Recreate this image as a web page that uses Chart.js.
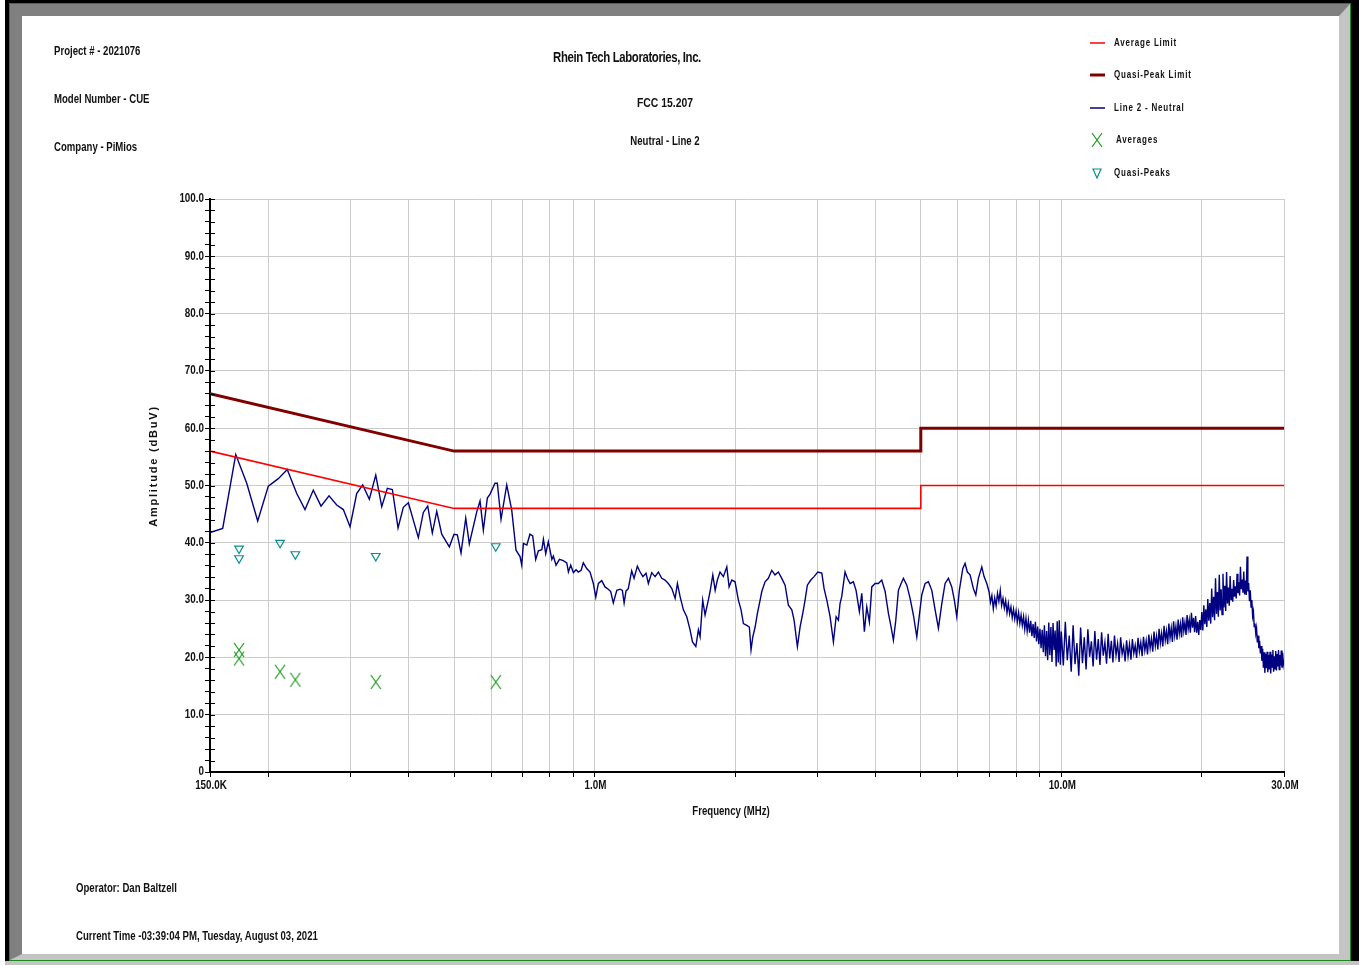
<!DOCTYPE html>
<html>
<head>
<meta charset="utf-8">
<script src="https://cdn.jsdelivr.net/npm/chart.js@4.4.1/dist/chart.umd.min.js"></script>
<style>
html, body { margin: 0; padding: 0; background: #fff; }
body { width: 1359px; height: 965px; position: relative; overflow: hidden;
  font-family: "Liberation Sans", Arial, sans-serif; font-weight: bold; color: #111; }
#outer { position: absolute; left: 5px; top: 0; width: 1354px; height: 961px; box-sizing: border-box;
  border-left: 4px solid #000; border-top: 3px solid #000; border-right: 8px solid #000; }
#green { position: absolute; left: 0; top: 0; right: 0; bottom: 0; border: 1px solid #1a8a1a; }
#bevel { position: absolute; left: 0; top: 0; right: 0; bottom: 0; box-sizing: border-box;
  border-top: 12px solid #808080; border-left: 12px solid #808080;
  border-right: 11px solid #c4c4c4; border-bottom: 6px solid #c4c4c4; background: #fff; }
#under { position: absolute; left: 5px; top: 961px; width: 1354px; height: 4px; background: #c4c4c4; }
canvas { position: absolute; left: 0; top: 0; }
.t { position: absolute; white-space: nowrap; line-height: 1; transform-origin: 0 0; transform: scaleX(0.8); }
.c { transform-origin: 50% 0; transform: translateX(-50%) scaleX(0.8); }
</style>
</head>
<body>
<div id="outer"><div id="green"><div id="bevel"></div></div></div>
<div id="under"></div>
<canvas id="emiChart" width="1359" height="965"></canvas>

<div class="t" style="left:54px;top:45px;font-size:12px;">Project # - 2021076</div>
<div class="t" style="left:54px;top:93px;font-size:12px;">Model Number - CUE</div>
<div class="t" style="left:54px;top:141px;font-size:12px;">Company - PiMios</div>
<div class="t c" style="left:627px;top:49px;font-size:15px;letter-spacing:-0.5px;transform:translateX(-50%) scaleX(0.76);">Rhein Tech Laboratories, Inc.</div>
<div class="t c" style="left:665px;top:96px;font-size:13px;">FCC 15.207</div>
<div class="t c" style="left:665px;top:135px;font-size:12px;">Neutral - Line 2</div>
<div class="t" style="left:76px;top:882px;font-size:12px;">Operator: Dan Baltzell</div>
<div class="t" style="left:76px;top:930px;font-size:12px;">Current Time -03:39:04 PM, Tuesday, August 03, 2021</div>

<script>
// frequency axis (MHz)
const gridFreqs = [0.15, 0.2, 0.3, 0.4, 0.5, 0.6, 0.7, 0.8, 0.9, 1, 2, 3, 4, 5, 6, 7, 8, 9, 10, 20, 30];
const xLabelFreqs = [0.15, 1, 10, 30];
const xLabelText = ["150.0K", "1.0M", "10.0M", "30.0M"];
const yLabelValues = [0, 10, 20, 30, 40, 50, 60, 70, 80, 90, 100];
const yLabelText = ["0", "10.0", "20.0", "30.0", "40.0", "50.0", "60.0", "70.0", "80.0", "90.0", "100.0"];

// limits [MHz, dBuV]
const avgLimit = [[0.15, 56], [0.5, 46], [5, 46], [5, 50], [30, 50]];
const qpLimit = [[0.15, 66], [0.5, 56], [5, 56], [5, 60], [30, 60]];

// measured points
const markFreqs = [0.1731, 0.1731, 0.2119, 0.2285, 0.3398, 0.6142];
const averages = [21.3, 19.8, 17.5, 16.1, 15.7, 15.7];
const quasiPeaks = [39.0, 37.3, 40.0, 38.0, 37.7, 39.4];

// scan trace [MHz, dBuV]
const trace = [
  [0.150, 41.8], [0.1597, 42.5], [0.1703, 55.4], [0.1798, 50.4], [0.1898, 43.8], [0.2000, 49.9],
  [0.2101, 51.2], [0.2196, 52.8], [0.2301, 48.6], [0.2397, 45.8], [0.2497, 49.2], [0.2594, 46.4],
  [0.2698, 48.2], [0.2803, 46.6], [0.2896, 45.8], [0.2993, 42.8], [0.3093, 48.6], [0.3186, 50.1],
  [0.3292, 47.6], [0.3398, 51.8], [0.3500, 46.3], [0.3598, 49.5], [0.3688, 49.3], [0.3793, 42.6],
  [0.3893, 46.2], [0.3991, 47.0], [0.4192, 40.9], [0.4297, 45.3], [0.4391, 46.4], [0.4492, 41.7],
  [0.4591, 45.5], [0.4705, 41.5], [0.4885, 39.3], [0.4999, 41.5], [0.5082, 41.4], [0.5175, 38.2],
  [0.5297, 44.3], [0.5391, 39.8], [0.5592, 45.4], [0.5684, 47.3], [0.5777, 42.2], [0.5892, 47.8],
  [0.5971, 48.5], [0.6120, 50.4], [0.6190, 50.4], [0.6304, 44.1], [0.6484, 50.1], [0.6646, 45.7],
  [0.6788, 38.7], [0.6924, 37.6], [0.6982, 36.1],
  [0.704, 39.9], [0.716, 39.6], [0.727, 41.5], [0.737, 41.2], [0.748, 37.1], [0.758, 38.6],
  [0.771, 38.8], [0.777, 40.6], [0.786, 38.1], [0.796, 40.2], [0.810, 37.1], [0.816, 37.7],
  [0.827, 36.1], [0.841, 37.1], [0.857, 36.9], [0.872, 36.5], [0.879, 34.9], [0.889, 36.1],
  [0.901, 34.8], [0.913, 35.3], [0.923, 34.9], [0.936, 35.2], [0.946, 36.5], [0.962, 35.5],
  [0.978, 34.9], [0.994, 32.9], [1.006, 30.5], [1.019, 32.9], [1.036, 33.4], [1.053, 32.3],
  [1.070, 31.9], [1.083, 31.5], [1.097, 29.5], [1.116, 31.7], [1.134, 31.9], [1.147, 31.7],
  [1.157, 29.5], [1.168, 31.6], [1.181, 32.0], [1.201, 35.1], [1.215, 33.8], [1.235, 35.9],
  [1.252, 34.9], [1.269, 34.1], [1.289, 34.7], [1.304, 32.9], [1.326, 34.8], [1.348, 34.1],
  [1.370, 34.9], [1.393, 33.8], [1.416, 33.5], [1.439, 32.9], [1.464, 32.0], [1.488, 30.3],
  [1.505, 32.9], [1.525, 30.6], [1.550, 28.3], [1.576, 27.1], [1.602, 24.8], [1.621, 22.7],
  [1.648, 21.9], [1.669, 24.8], [1.683, 23.6], [1.705, 30.0], [1.725, 27.4], [1.753, 30.0],
  [1.768, 31.5], [1.792, 34.4], [1.813, 31.7], [1.833, 33.5], [1.857, 34.9], [1.888, 34.1],
  [1.920, 35.8], [1.942, 32.3], [1.968, 33.5], [2.000, 33.2], [2.033, 30.0], [2.060, 28.3],
  [2.084, 25.9], [2.119, 25.6], [2.146, 25.3], [2.164, 21.3], [2.183, 23.6], [2.208, 25.3],
  [2.233, 27.7], [2.263, 30.0], [2.282, 31.5], [2.319, 33.2], [2.357, 33.8], [2.397, 35.2],
  [2.436, 34.4], [2.476, 34.9], [2.518, 33.8], [2.560, 32.6], [2.602, 29.1], [2.646, 28.3],
  [2.676, 26.5], [2.720, 21.9], [2.756, 25.3], [2.793, 27.7], [2.825, 30.0], [2.857, 32.6],
  [2.906, 33.5], [2.953, 34.1], [3.008, 34.9], [3.068, 34.7], [3.103, 32.0], [3.145, 30.0],
  [3.196, 27.1], [3.249, 22.7], [3.293, 27.1], [3.330, 26.5], [3.357, 29.4],
  [3.385, 30.6], [3.441, 34.9], [3.480, 33.8], [3.527, 32.9], [3.585, 33.2], [3.633, 31.7],
  [3.693, 28.0], [3.737, 31.2], [3.785, 24.5], [3.830, 28.8], [3.880, 26.2], [3.926, 32.3],
  [3.990, 32.9], [4.056, 32.9], [4.124, 33.5], [4.193, 31.5], [4.262, 27.7], [4.319, 25.3],
  [4.368, 23.0], [4.420, 26.5], [4.477, 31.7], [4.537, 32.9], [4.589, 33.8], [4.667, 32.6],
  [4.743, 30.3], [4.821, 27.4], [4.902, 23.6], [4.965, 27.4], [5.024, 30.9], [5.107, 32.9],
  [5.191, 33.2], [5.279, 31.7], [5.366, 28.3], [5.454, 25.1], [5.546, 29.4], [5.636, 32.9],
  [5.729, 33.8], [5.825, 32.3], [5.900, 30.0], [5.971, 27.1], [6.047, 31.7], [6.150, 35.5],
  [6.220, 36.4], [6.291, 34.9], [6.376, 34.4], [6.481, 32.0], [6.558, 30.9], [6.643, 33.8],
  [6.755, 35.8], [6.832, 34.1], [6.924, 32.9],
  [7.00, 31.5], [7.05, 29.6], [7.10, 30.8], [7.15, 28.5], [7.20, 30.4], [7.25, 29.0],
  [7.30, 31.2], [7.35, 29.8], [7.40, 31.7], [7.45, 29.1], [7.50, 30.3], [7.55, 28.6],
  [7.60, 29.9], [7.65, 27.8], [7.70, 29.4], [7.75, 27.6], [7.80, 28.8], [7.85, 26.9],
  [7.90, 28.4], [7.95, 26.7], [8.00, 28.1], [8.05, 26.2], [8.10, 27.8], [8.15, 25.9],
  [8.20, 27.4], [8.25, 25.6], [8.30, 27.1], [8.35, 24.9], [8.40, 26.8], [8.45, 24.6],
  [8.50, 26.5], [8.55, 24.3], [8.60, 26.4], [8.65, 23.7], [8.70, 25.8], [8.75, 23.4],
  [8.80, 26.2], [8.85, 22.8], [8.90, 25.4], [8.95, 22.3], [9.00, 25.0], [9.05, 21.6],
  [9.10, 24.8], [9.15, 20.9], [9.20, 25.6], [9.25, 20.2], [9.30, 24.6], [9.35, 19.5],
  [9.40, 26.1], [9.45, 20.4], [9.50, 25.3], [9.55, 19.2], [9.60, 26.0], [9.65, 21.3],
  [9.70, 24.7], [9.75, 18.4], [9.80, 26.3], [9.85, 19.1], [9.90, 26.5], [9.95, 18.7],
  [10.0, 24.5], [10.1, 18.6], [10.2, 26.2], [10.3, 19.5], [10.4, 23.8], [10.5, 17.5], [10.6, 25.6], [10.7, 18.8], [10.8, 22.5], [10.9, 16.8],
  [11.0, 25.2], [11.1, 19.0], [11.2, 23.5], [11.3, 17.9], [11.4, 24.9], [11.5, 20.1], [11.6, 22.8], [11.7, 18.4], [11.8, 24.6], [11.9, 19.6],
  [12.0, 23.2], [12.1, 18.7], [12.2, 24.4], [12.3, 20.3], [12.4, 22.6], [12.5, 18.9], [12.6, 24.1], [12.7, 19.8], [12.8, 22.9], [12.9, 19.1],
  [13.0, 23.8], [13.1, 20.4], [13.2, 22.4], [13.3, 19.2], [13.4, 23.5], [13.5, 20.6], [13.6, 21.9], [13.7, 19.3], [13.8, 23.0], [13.9, 20.2],
  [14.0, 22.3], [14.1, 19.6], [14.2, 23.2], [14.3, 20.7], [14.4, 22.1], [14.5, 19.9], [14.6, 23.4], [14.7, 21.0], [14.8, 22.6], [14.9, 20.2],
  [15.0, 23.6], [15.1, 21.2], [15.2, 22.9], [15.3, 20.5], [15.4, 24.0], [15.5, 21.6], [15.6, 23.3], [15.7, 21.0], [15.8, 24.5], [15.9, 22.0],
  [16.0, 23.7], [16.1, 21.4], [16.2, 25.0], [16.3, 22.5], [16.4, 24.2], [16.5, 21.9], [16.6, 25.5], [16.7, 23.0], [16.8, 24.6], [16.9, 22.3],
  [17.0, 25.9], [17.1, 23.4], [17.2, 25.1], [17.3, 22.7], [17.4, 26.3], [17.5, 23.8], [17.6, 25.4], [17.7, 23.1], [17.8, 26.6], [17.9, 24.2],
  [18.0, 25.8], [18.1, 23.5], [18.2, 27.0], [18.3, 24.6], [18.4, 26.1], [18.5, 23.9], [18.6, 27.4], [18.7, 25.0], [18.8, 26.5], [18.9, 24.3],
  [19.0, 27.8], [19.1, 25.2], [19.2, 26.9], [19.3, 24.4], [19.4, 27.2], [19.5, 24.3], [19.6, 26.2], [19.7, 23.9], [19.8, 26.5], [19.9, 24.8],
  [20.0, 27.9], [20.1, 24.7], [20.2, 29.1], [20.3, 25.8], [20.4, 28.4], [20.5, 25.3], [20.6, 30.2], [20.7, 26.4], [20.8, 29.5], [20.9, 25.9],
  [21.0, 32.0], [21.1, 27.0], [21.2, 30.6], [21.3, 26.5], [21.4, 33.8], [21.5, 27.6], [21.6, 31.4], [21.7, 27.1], [21.8, 34.4], [21.9, 28.2],
  [22.0, 31.9], [22.1, 27.5], [22.2, 34.6], [22.3, 28.7], [22.4, 32.5], [22.5, 28.1], [22.6, 34.9], [22.7, 29.4], [22.8, 32.2], [22.9, 29.0],
  [23.0, 34.2], [23.1, 30.1], [23.2, 32.0], [23.3, 29.7], [23.4, 33.5], [23.5, 30.6], [23.6, 32.4], [23.7, 30.3], [23.8, 34.6], [23.9, 31.2],
  [24.0, 33.1], [24.1, 30.8], [24.2, 35.8], [24.3, 31.9], [24.4, 33.6], [24.5, 31.3], [24.6, 35.0], [24.7, 31.0], [24.8, 33.4], [24.9, 30.9],
  [25.0, 37.6], [25.1, 31.5], [25.2, 33.0], [25.3, 29.8], [25.4, 31.7], [25.5, 28.8], [25.6, 30.0], [25.7, 27.2], [25.8, 28.0], [25.9, 25.4],
  [26.0, 25.9], [26.1, 24.2], [26.2, 25.1], [26.3, 22.6], [26.4, 23.8], [26.5, 21.6], [26.6, 22.9], [26.7, 20.7], [26.8, 22.0], [26.9, 19.4],
  [27.0, 21.5], [27.1, 18.2], [27.2, 20.9], [27.3, 17.3], [27.4, 20.6], [27.5, 18.1], [27.6, 21.0], [27.7, 17.4], [27.8, 20.4], [27.9, 17.9],
  [28.0, 21.0], [28.1, 17.2], [28.2, 20.5], [28.3, 18.3], [28.4, 21.3], [28.5, 17.5], [28.6, 20.2], [28.7, 18.0], [28.8, 21.1], [28.9, 17.7],
  [29.0, 20.6], [29.1, 18.4], [29.2, 21.3], [29.3, 17.9], [29.4, 20.4], [29.5, 18.6], [29.6, 21.2], [29.7, 18.2], [29.8, 20.8], [29.9, 18.8],
  [30.0, 19.6]
];

const sans = '"Liberation Sans", Arial, sans-serif';

function crossMark(color) {
  const c = document.createElement("canvas");
  c.width = 12;
  c.height = 16;
  const g = c.getContext("2d");
  g.strokeStyle = color;
  g.lineWidth = 1.2;
  g.beginPath();
  g.moveTo(1, 1); g.lineTo(11, 15);
  g.moveTo(11, 1); g.lineTo(1, 15);
  g.stroke();
  return c;
}
const xMark = crossMark("#169a16");

// condensed bold text, like the narrow font of the original
function narrowText(ctx, text, x, y, align, size, sx, spacing) {
  ctx.save();
  ctx.translate(x, y);
  ctx.scale(sx, 1);
  ctx.font = "bold " + size + "px " + sans;
  ctx.textAlign = align;
  ctx.textBaseline = "middle";
  if ("letterSpacing" in ctx) ctx.letterSpacing = (spacing || 0) + "px";
  ctx.fillText(text, 0, 0);
  ctx.restore();
}

// axis labels, legend and right-hand halves of the y ticks
const extras = {
  id: "extras",
  afterDraw(chart) {
    const ctx = chart.ctx;
    const x = chart.scales.x;
    const y = chart.scales.y;
    ctx.save();
    ctx.strokeStyle = "#000";
    ctx.lineWidth = 1;
    y.ticks.forEach((t) => {
      const py = Math.round(y.getPixelForValue(t.value)) + 0.5;
      ctx.beginPath();
      ctx.moveTo(y.right, py);
      ctx.lineTo(y.right + 5, py);
      ctx.stroke();
    });
    ctx.fillStyle = "#111";

    yLabelValues.forEach((v, i) => {
      narrowText(ctx, yLabelText[i], 204, y.getPixelForValue(v), "right", 12, 0.82);
    });
    xLabelFreqs.forEach((f, i) => {
      narrowText(ctx, xLabelText[i], x.getPixelForValue(f) + 1, 786, "center", 12, 0.82);
    });
    narrowText(ctx, "Frequency (MHz)", 731, 812, "center", 12, 0.8);

    ctx.save();
    ctx.translate(154, 466);
    ctx.rotate(-Math.PI / 2);
    ctx.font = "bold 11px " + sans;
    ctx.textAlign = "center";
    ctx.textBaseline = "middle";
    if ("letterSpacing" in ctx) ctx.letterSpacing = "1.8px";
    ctx.fillText("Amplitude (dBuV)", 0, 0);
    ctx.restore();

    const order = ["Average Limit", "Quasi-Peak Limit", "Line 2 - Neutral", "Averages", "Quasi-Peaks"];
    const rows = [43, 75, 108, 140, 173];
    order.forEach((name, i) => {
      const ds = chart.data.datasets.find((d) => d.label === name);
      const ry = rows[i];
      if (ds.showLine) {
        ctx.strokeStyle = ds.borderColor;
        ctx.lineWidth = ds.borderWidth < 2 ? 1.5 : ds.borderWidth;
        ctx.beginPath();
        ctx.moveTo(1090, ry);
        ctx.lineTo(1105, ry);
        ctx.stroke();
      } else if (ds.pointStyle === xMark) {
        ctx.drawImage(xMark, 1091, ry - 8);
      } else {
        ctx.strokeStyle = ds.borderColor;
        ctx.lineWidth = ds.borderWidth;
        ctx.beginPath();
        ctx.moveTo(1093, ry - 4);
        ctx.lineTo(1101, ry - 4);
        ctx.lineTo(1097, ry + 5);
        ctx.closePath();
        ctx.stroke();
      }
      narrowText(ctx, name, i === 3 ? 1116 : 1114, ry, "left", 10, 0.8, 1);
    });
    ctx.restore();
  },
};

new Chart(document.getElementById("emiChart"), {
  type: "scatter",
  data: {
    datasets: [
      {
        label: "Averages",
        data: markFreqs.map((f, i) => ({ x: f, y: averages[i] })),
        pointStyle: xMark,
        pointRadius: 7,
        showLine: false,
      },
      {
        label: "Quasi-Peaks",
        data: markFreqs.map((f, i) => ({ x: f, y: quasiPeaks[i] })),
        pointStyle: "triangle",
        rotation: 180,
        pointRadius: 5,
        borderColor: "#0a8f8f",
        backgroundColor: "rgba(0,0,0,0)",
        borderWidth: 1.2,
        showLine: false,
      },
      {
        label: "Average Limit",
        data: avgLimit,
        showLine: true,
        borderColor: "#ff0000",
        borderWidth: 1.6,
        pointRadius: 0,
      },
      {
        label: "Quasi-Peak Limit",
        data: qpLimit,
        showLine: true,
        borderColor: "#800000",
        borderWidth: 3,
        pointRadius: 0,
      },
      {
        label: "Line 2 - Neutral",
        data: trace,
        showLine: true,
        borderColor: "#000080",
        borderWidth: 1.4,
        pointRadius: 0,
      },
    ],
  },
  options: {
    responsive: false,
    animation: false,
    layout: { padding: { left: 130, top: 199, right: 75, bottom: 133 } },
    plugins: { legend: { display: false }, tooltip: { enabled: false } },
    scales: {
      x: {
        type: "logarithmic",
        min: 0.15,
        max: 30,
        afterBuildTicks: (scale) => {
          scale.ticks = gridFreqs.map((v) => ({ value: v }));
        },
        afterFit: (scale) => { scale.height = 60; },
        ticks: { display: false, autoSkip: false, maxRotation: 0 },
        grid: { color: "#cccccc", tickColor: "#000", tickLength: 5, lineWidth: 1 },
        border: { color: "#000", width: 2 },
      },
      y: {
        min: 0,
        max: 100,
        afterFit: (scale) => { scale.width = 80; },
        ticks: { display: false, stepSize: 2, autoSkip: false },
        grid: {
          color: (c) => (c.tick && c.tick.value % 10 === 0 ? "#cccccc" : "rgba(0,0,0,0)"),
          tickColor: "#000",
          tickLength: 5,
        },
        border: { color: "#000", width: 2 },
      },
    },
  },
  plugins: [extras],
});
</script>
</body>
</html>
